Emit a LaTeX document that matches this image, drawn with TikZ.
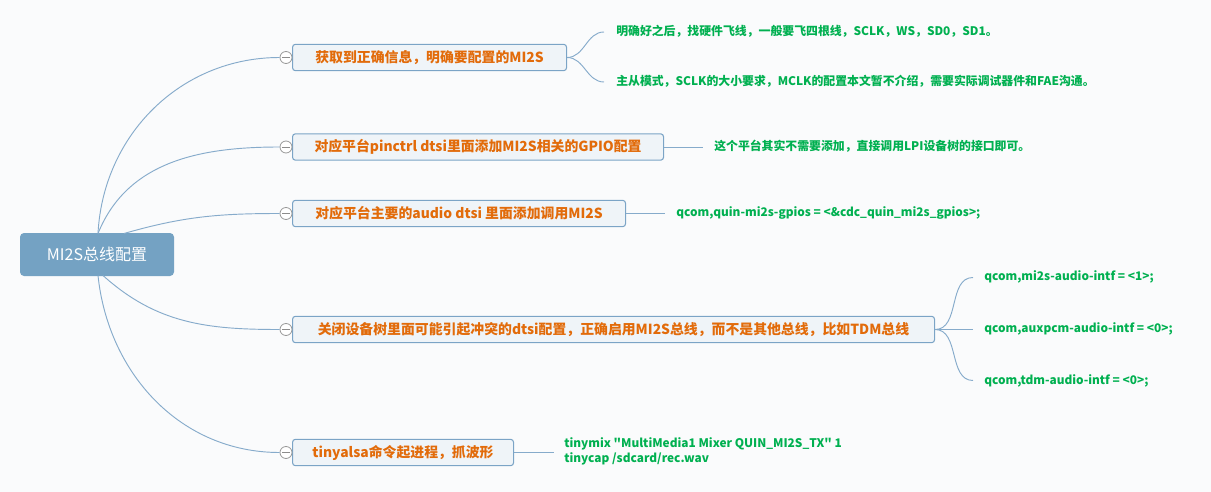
\documentclass[tikz,border=0pt]{standalone}
\usepackage{fontspec}
\setmainfont{Noto Sans CJK SC}[Ligatures=TeXOff]
\usetikzlibrary{calc}
\definecolor{bgc}{HTML}{FAFBFC}
\definecolor{rootc}{HTML}{74A2C3}
\definecolor{boxc}{HTML}{EFF4F8}
\definecolor{edgec}{HTML}{7BA4C6}
\definecolor{linec}{HTML}{86ABCB}
\definecolor{orangec}{HTML}{E26B0A}
\definecolor{greenc}{HTML}{00B050}
\tikzset{
  rootbox/.style={draw=none, fill=rootc, rounded corners=3pt, minimum width=115.5pt, minimum height=32.25pt, text=white, font=\fontsize{12}{14}\selectfont, inner sep=0pt},
  topicbox/.style={draw=edgec, fill=boxc, rounded corners=2.2pt, line width=0.8pt, minimum height=19.8pt, text=orangec, font=\bfseries\fontsize{10.4}{12}\selectfont, inner sep=0pt, anchor=west},
  leaftext/.style={text=greenc, font=\bfseries\fontsize{8.9}{10}\selectfont, inner sep=0pt, anchor=west, align=left},
  foldc/.style={circle, draw=gray!80, fill=white, line width=0.6pt, minimum size=9pt, inner sep=0pt,
    path picture={\draw[gray!90, line width=0.6pt] ($(path picture bounding box.west)+(1.6pt,0)$) -- ($(path picture bounding box.east)+(-1.6pt,0)$);}},
  conn/.style={draw=linec, line width=0.7pt}
}
\begin{document}
\begin{tikzpicture}[x=0.75pt, y=-0.75pt]
\fill[bgc] (0,0) rectangle (1211,492);
\useasboundingbox (0,0) rectangle (1211,492);

\node[rootbox] (root) at (97,254.5) {MI2S总线配置};
\coordinate (ra) at (98,233.5);
\coordinate (rb) at (124,233.5);
\coordinate (rc) at (103,275.5);
\coordinate (rd) at (98,275.5);

% topic boxes
\node[topicbox, minimum width=205.5pt] (b1) at (292,57.5) {获取到正确信息，明确要配置的MI2S};
\node[topicbox, minimum width=278.25pt] (b2) at (292,147) {对应平台pinctrl dtsi里面添加MI2S相关的GPIO配置};
\node[topicbox, minimum width=249.75pt] (b3) at (292,213.5) {对应平台主要的audio dtsi 里面添加调用MI2S};
\node[topicbox, minimum width=481.5pt] (b4) at (292,329.5) {关闭设备树里面可能引起冲突的dtsi配置，正确启用MI2S总线，而不是其他总线，比如TDM总线};
\node[topicbox, minimum width=165.75pt] (b5) at (292,452.5) {tinyalsa命令起进程，抓波形};

% fold circles
\node[foldc] (c1) at (286,57.5) {};
\node[foldc] (c2) at (286,147) {};
\node[foldc] (c3) at (286,213.5) {};
\node[foldc] (c4) at (286,329.5) {};
\node[foldc] (c5) at (286,452.5) {};

% connectors root -> topics
\draw[conn] (ra) to[out=87,in=180] (c1.west);
\draw[conn] (ra) to[out=68,in=180] (c2.west);
\draw[conn] (rb) to[out=16,in=180] (c3.west);
\draw[conn] (rc) to[out=-42,in=180] (c4.west);
\draw[conn] (rd) to[out=-84,in=180] (c5.west);

% leaves of b1
\node[leaftext] (l11) at (616,31) {明确好之后，找硬件飞线，一般要飞四根线，SCLK，WS，SD0，SD1。};
\node[leaftext] (l12) at (616,81.5) {主从模式，SCLK的大小要求，MCLK的配置本文暂不介绍，需要实际调试器件和FAE沟通。};
\coordinate (e11) at (604,32);
\coordinate (e12) at (604,82);
\draw[conn] (b1.east) to[out=0,in=180] (e11);
\draw[conn] (b1.east) to[out=0,in=180] (e12);

% leaf of b2
\node[leaftext] (l21) at (714,146.5) {这个平台其实不需要添加，直接调用LPI设备树的接口即可。};
\coordinate (e21) at (703,147);
\draw[conn] (b2.east) -- (e21);

% leaf of b3
\node[leaftext] (l31) at (676,213) {qcom,quin-mi2s-gpios = <\&cdc\_quin\_mi2s\_gpios>;};
\coordinate (e31) at (665,213.5);
\draw[conn] (b3.east) -- (e31);

% leaves of b4
\node[leaftext] (l41) at (984,277) {qcom,mi2s-audio-intf = <1>;};
\node[leaftext] (l42) at (984,329) {qcom,auxpcm-audio-intf = <0>;};
\node[leaftext] (l43) at (984,380.5) {qcom,tdm-audio-intf = <0>;};
\coordinate (e41) at (973,277.5);
\coordinate (e42) at (973,329.5);
\coordinate (e43) at (973,380.5);
\draw[conn] (b4.east) to[out=0,in=180] (e41);
\draw[conn] (b4.east) -- (e42);
\draw[conn] (b4.east) to[out=0,in=180] (e43);

% leaf of b5
\node[leaftext] (l51) at (564,451.5) {tinymix "MultiMedia1 Mixer QUIN\_MI2S\_TX" 1\\[1pt]tinycap /sdcard/rec.wav};
\coordinate (e51) at (554,452.5);
\draw[conn] (b5.east) -- (e51);
\end{tikzpicture}
\end{document}
